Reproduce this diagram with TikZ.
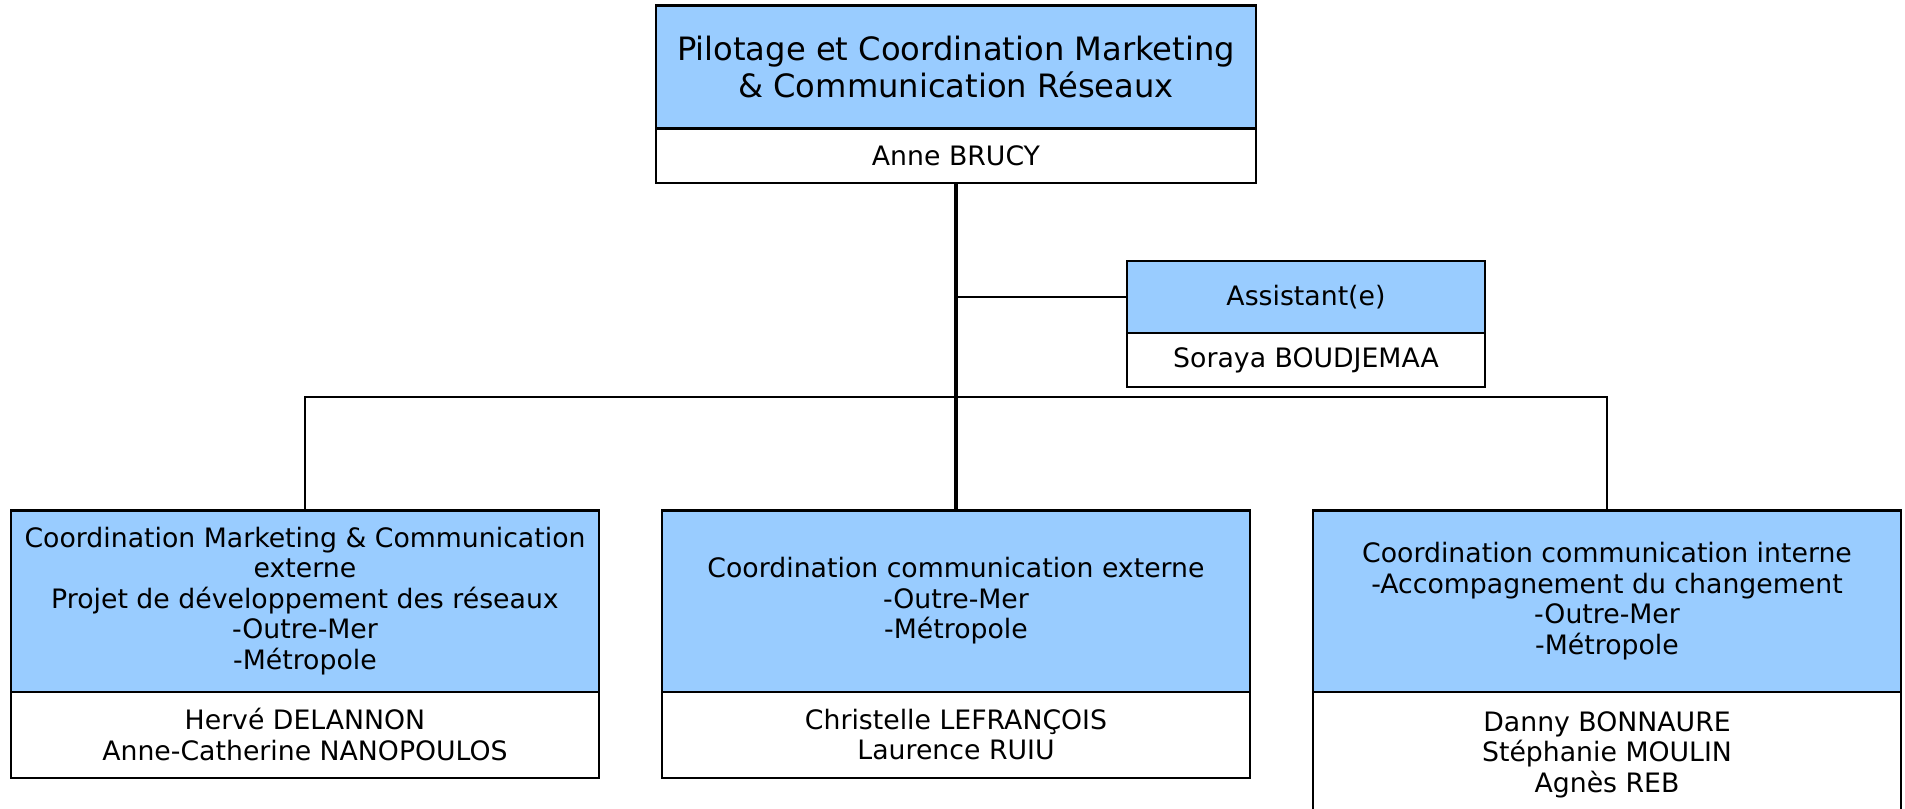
\documentclass[tikz,border=0pt]{standalone}
\usepackage{fontspec}
\setmainfont{DejaVu Sans}
\usetikzlibrary{positioning}
\definecolor{headblue}{HTML}{99CCFF}

\begin{document}
\begin{tikzpicture}[
  x=0.01cm, y=-0.01cm,
  node distance=0pt,
  line width=0.6pt,
  box/.style={
    rectangle,
    draw=black,
    align=center,
    inner sep=0pt,
    outer sep=0pt,
    font=\fontsize{7.6}{8.7}\selectfont
  },
  chief head/.style={
    box,
    fill=headblue,
    minimum width=6cm, minimum height=1.23cm,
    font=\fontsize{9.15}{10.75}\selectfont
  },
  chief names/.style={
    box,
    fill=white,
    minimum width=6cm, minimum height=0.54cm
  },
  assistant head/.style={
    box,
    fill=headblue,
    minimum width=3.58cm, minimum height=0.72cm
  },
  assistant names/.style={
    box,
    fill=white,
    minimum width=3.58cm, minimum height=0.54cm
  },
  unit head/.style={
    box,
    fill=headblue,
    minimum width=5.87cm, minimum height=1.81cm
  },
  unit names/.style={
    box,
    fill=white,
    minimum width=5.87cm, minimum height=0.86cm
  },
  link/.style={
    line width=0.5pt
  }
  ]
\useasboundingbox (0,0) rectangle (1905,808);
% Pilotage
\node [chief head] (pilot) at (956,67) {Pilotage et Coordination Marketing\\ \& Communication R\'eseaux};
\node [chief names, below=of pilot] (pilot names) {Anne BRUCY};
% Assistant
\node [assistant head] (assistant) at (1306,297) {Assistant(e)};
\node [assistant names, below=of assistant] (assistant names) {Soraya BOUDJEMAA};
% Marketing & Communication externe
\node [unit head] (marketing) at (305,601) {Coordination Marketing \& Communication\\ externe\\ Projet de d\'eveloppement des r\'eseaux\\ -Outre-Mer\\ -M\'etropole};
\node [unit names, below=of marketing] (marketing names) {Herv\'e DELANNON\\ Anne-Catherine NANOPOULOS};
% Communication externe
\node [unit head] (external) at (956,601) {Coordination communication externe\\ -Outre-Mer\\ -M\'etropole};
\node [unit names, below=of external] (external names) {Christelle LEFRAN\c{C}OIS\\ Laurence RUIU};
% Communication interne
\node [unit head] (internal) at (1607,601) {Coordination communication interne\\ -Accompagnement du changement\\ -Outre-Mer\\ -M\'etropole};
\node [unit names, below=of internal, minimum height=1.26cm] (internal names) {Danny BONNAURE\\ St\'ephanie MOULIN\\ Agn\`es REB};
% Links
\coordinate (bus) at (956,397);
\draw [line width=0.9pt] (pilot names.south) -- (external.north);
\draw [link] (assistant.west) -- (assistant.west -| pilot names.south);
\draw [link] (marketing.north) |- (bus) -| (internal.north);
\end{tikzpicture}
\end{document}
